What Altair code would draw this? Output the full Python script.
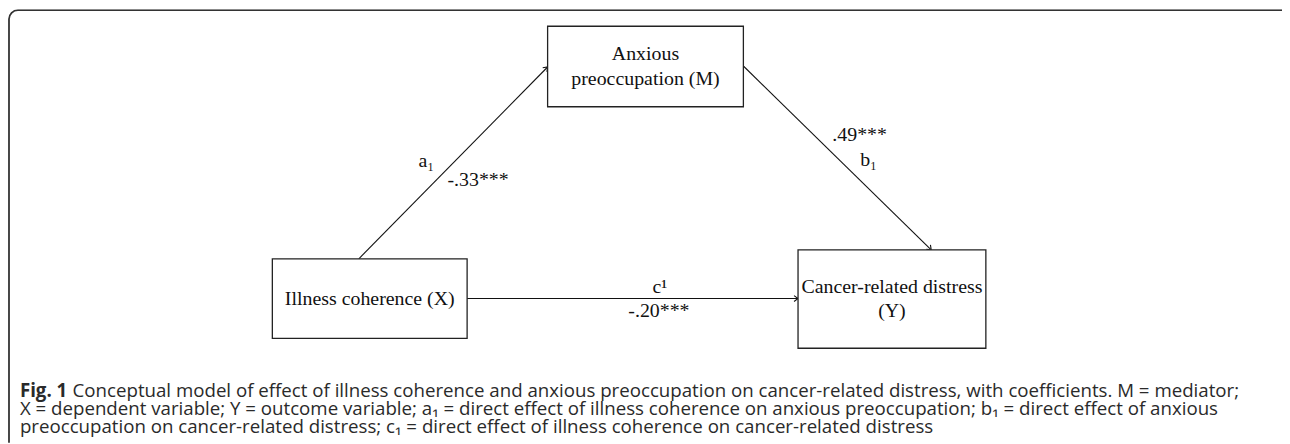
import math
import altair as alt
import pandas as pd

# ---------------- data ----------------
node_names = ["M", "X", "Y"]
node_lines = [["Anxious", "preoccupation (M)"],
              ["Illness coherence (X)"],
              ["Cancer-related distress", "(Y)"]]
path_names = ["a₁", "b₁", "c¹"]
path_coefs = ["-.33***", ".49***", "-.20***"]
path_from = ["X", "M", "X"]
path_to = ["M", "Y", "Y"]

caption_bold = "Fig. 1"
caption_lines = [
    "Conceptual model of effect of illness coherence and anxious preoccupation on cancer-related distress, with coefficients. M = mediator;",
    "X = dependent variable; Y = outcome variable; a₁ = direct effect of illness coherence on anxious preoccupation; b₁ = direct effect of anxious",
    "preoccupation on cancer-related distress; c₁ = direct effect of illness coherence on cancer-related distress",
]

# ---------------- layout (page pixels) ----------------
W, H = 1282, 436
box = {"M": (551, 748, 25, 106), "X": (274, 470, 259, 339), "Y": (803, 992, 250, 349)}
arrow_pts = {  # start, end
    "a₁": ((361, 259), (551, 66)),
    "b₁": ((748, 65), (937, 250)),
    "c¹": ((470, 299), (803, 299)),
}
name_pos = {"a₁": (429, 161), "b₁": (874, 160), "c¹": (664, 287)}
coef_pos = {"a₁": (481, 180), "b₁": (865, 134), "c¹": (663, 312)}
cap_y = [392, 410, 428]
CAP_FS = 18.8

xsc = alt.Scale(domain=[8, 8 + W], range=[0, W])
ysc = alt.Scale(domain=[8, 8 + H], range=[0, H])

def X(f="x"):
    return alt.X(f"{f}:Q", scale=xsc, axis=None)

def Y(f="y"):
    return alt.Y(f"{f}:Q", scale=ysc, axis=None)

# boxes
bdf = pd.DataFrame([{"n": n, "x": box[n][0], "x2": box[n][1], "y": box[n][2], "y2": box[n][3]}
                    for n in node_names])
boxes = alt.Chart(bdf).mark_rect(fill="white", stroke="#222", strokeWidth=1.3).encode(
    x=X(), x2="x2:Q", y=Y(), y2="y2:Q")

# box labels
rows = []
for n, lines in zip(node_names, node_lines):
    x0, x1, y0, y1 = box[n]
    cx, cy = (x0 + x1) / 2, (y0 + y1) / 2
    k = len(lines)
    for i, t in enumerate(lines):
        rows.append({"t": t, "x": cx, "y": cy + (i - (k - 1) / 2) * 25})
labels = alt.Chart(pd.DataFrame(rows)).mark_text(
    font="Liberation Serif", fontSize=20, color="#111", baseline="middle", align="center"
).encode(x=X(), y=Y(), text="t:N")

# arrows
adf = pd.DataFrame([{"p": p, "x": arrow_pts[p][0][0], "y": arrow_pts[p][0][1],
                     "x2": arrow_pts[p][1][0], "y2": arrow_pts[p][1][1]} for p in path_names])
lines_ = alt.Chart(adf).mark_rule(color="#111", strokeWidth=1.1).encode(
    x=X(), y=Y(), x2="x2:Q", y2="y2:Q")

heads = []
for p in path_names:
    (sx, sy), (ex, ey) = arrow_pts[p]
    ang = math.degrees(math.atan2(ey - sy, ex - sx)) % 360
    h = alt.Chart(pd.DataFrame([{"x": ex, "y": ey}])).mark_point(
        shape="M -1 -0.75 L 0 0 L -1 0.75", filled=False, stroke="#111", strokeWidth=1.1,
        size=64, angle=ang, opacity=1
    ).encode(x=X(), y=Y())
    heads.append(h)

# path labels
pl = pd.DataFrame([{"t": p, "x": name_pos[p][0], "y": name_pos[p][1]} for p in path_names]
                  + [{"t": c, "x": coef_pos[p][0], "y": coef_pos[p][1]} for p, c in zip(path_names, path_coefs)])
plabels = alt.Chart(pl).mark_text(
    font="Liberation Serif", fontSize=20, color="#111", baseline="middle", align="center"
).encode(x=X(), y=Y(), text="t:N")

# outer rounded frame (clipped by the page)
frame = alt.Chart(pd.DataFrame([{"x": 9, "x2": 1310, "y": 8.8, "y2": 480}])).mark_rect(
    fillOpacity=0, stroke="#333", strokeWidth=1.8, cornerRadius=9, clip=True
).encode(x=X(), x2="x2:Q", y=Y(), y2="y2:Q")

# caption
cap_bold = alt.Chart(pd.DataFrame([{"t": caption_bold, "x": 20, "y": cap_y[0]}])).mark_text(
    font="Open Sans", fontSize=CAP_FS, fontWeight="bold", color="#2a2a2a", align="left", baseline="middle"
).encode(x=X(), y=Y(), text="t:N")
cdf = pd.DataFrame([{"t": caption_lines[0], "x": 73, "y": cap_y[0]},
                    {"t": caption_lines[1], "x": 20, "y": cap_y[1]},
                    {"t": caption_lines[2], "x": 20, "y": cap_y[2]}])
cap = alt.Chart(cdf).mark_text(
    font="Open Sans", fontSize=CAP_FS, color="#2a2a2a", align="left", baseline="middle"
).encode(x=X(), y=Y(), text="t:N")

chart = alt.layer(frame, lines_, *heads, boxes, labels, plabels, cap_bold, cap).properties(
    width=W, height=H, autosize=alt.AutoSizeParams(type="none"), padding=0
).configure_view(strokeWidth=0)

chart.save("out.html", embed_options={"renderer": "svg", "actions": False})
